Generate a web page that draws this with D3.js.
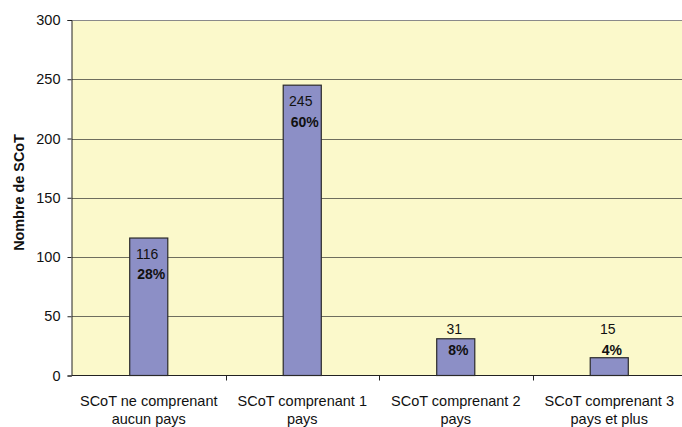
<!DOCTYPE html>
<html><head><meta charset="utf-8">
<script src="https://cdn.jsdelivr.net/npm/d3@7"></script>
<style>body{margin:0;background:#fff;}svg{display:block;font-family:"Liberation Sans",Arial,sans-serif;}</style>
</head><body><svg id="c" width="682" height="427"></svg>
<script>
const categories = [["SCoT ne comprenant","aucun pays"],["SCoT comprenant 1","pays"],["SCoT comprenant 2","pays"],["SCoT comprenant 3","pays et plus"]];
const values = [116, 245, 31, 15];
const percents = ["28%", "60%", "8%", "4%"];
const yTicks = [0, 50, 100, 150, 200, 250, 300];
const yTitle = "Nombre de SCoT";

(function(){
const svg = d3.select("#c");
const mL = 72, mR = 686, mT = 20, mB = 375.5;
const x = d3.scaleBand().domain(d3.range(values.length)).range([mL, mR]).paddingInner(0).paddingOuter(0);
const y = d3.scaleLinear().domain([0, 300]).range([mB, mT]);

svg.append("rect").attr("x", mL).attr("y", mT).attr("width", mR-mL).attr("height", mB-mT).attr("fill", "#FBF9CB");

// gridlines
svg.append("g").selectAll("line").data(yTicks.filter(d=>d>0)).join("line")
  .attr("x1", mL).attr("x2", mR).attr("y1", d=>Math.round(y(d))+0.5).attr("y2", d=>Math.round(y(d))+0.5)
  .attr("stroke", d=>d===300?"#8a8a8a":"#6e6e5e").attr("stroke-width", 1);

// y axis
const ya = svg.append("g").attr("transform", `translate(${mL-0.5},0)`)
  .call(d3.axisLeft(y).tickValues(yTicks).tickSize(4).tickPadding(7));
ya.select(".domain").attr("stroke", "#222");
ya.selectAll(".tick line").attr("stroke", "#222");
ya.selectAll(".tick text").attr("font-size", 14.5).attr("fill", "#111").attr("font-family", "Liberation Sans, Arial, sans-serif");

// x axis
const xa = svg.append("g").attr("transform", `translate(0,${mB})`);
xa.append("line").attr("x1", mL).attr("x2", mR).attr("stroke", "#222");
xa.selectAll("line.t").data(d3.range(1, values.length)).join("line").attr("class","t")
  .attr("x1", d=>Math.round(x(d))+0.5).attr("x2", d=>Math.round(x(d))+0.5).attr("y1", 0).attr("y2", 5).attr("stroke", "#222");
xa.selectAll("text").data(categories).join("text")
  .attr("text-anchor", "middle").attr("font-size", 14.5).attr("fill", "#111")
  .attr("x", (d,i)=>x(i)+x.bandwidth()/2)
  .selectAll("tspan").data(d=>d).join("tspan")
  .attr("x", function(){return this.parentNode.getAttribute("x");})
  .attr("y", (d,i)=>30.5 + i*17.5).text(d=>d);

// bars
const bw = x.bandwidth()*0.248;
svg.append("g").selectAll("rect").data(values).join("rect")
  .attr("x", (d,i)=>x(i)+x.bandwidth()/2-bw/2).attr("width", bw)
  .attr("y", d=>y(d)).attr("height", d=>mB-y(d))
  .attr("fill", "#8C8FC6").attr("stroke", "#2a2a2a").attr("stroke-width", 1.2);

// labels
const lab = svg.append("g");
values.forEach((v,i)=>{
  const cx = x(i)+x.bandwidth()/2;
  const cy = Math.min(y(v)+26, y(0)-36);
  lab.append("text").attr("x", cx-1.5).attr("y", cy-10).attr("dy","0.35em").attr("text-anchor","middle")
    .attr("font-size", 14).attr("fill","#111").text(v);
  lab.append("text").attr("x", cx+2.5).attr("y", cy+10.5).attr("dy","0.35em").attr("text-anchor","middle")
    .attr("font-size", 14).attr("font-weight","bold").attr("fill","#111").text(percents[i]);
});

// y title
svg.append("text").attr("transform", `translate(19,192.5) rotate(-90)`)
  .attr("text-anchor","middle").attr("dy","0.35em").attr("font-size", 14.4).attr("font-weight","bold").attr("fill","#111").text(yTitle);
})();
</script></body></html>
